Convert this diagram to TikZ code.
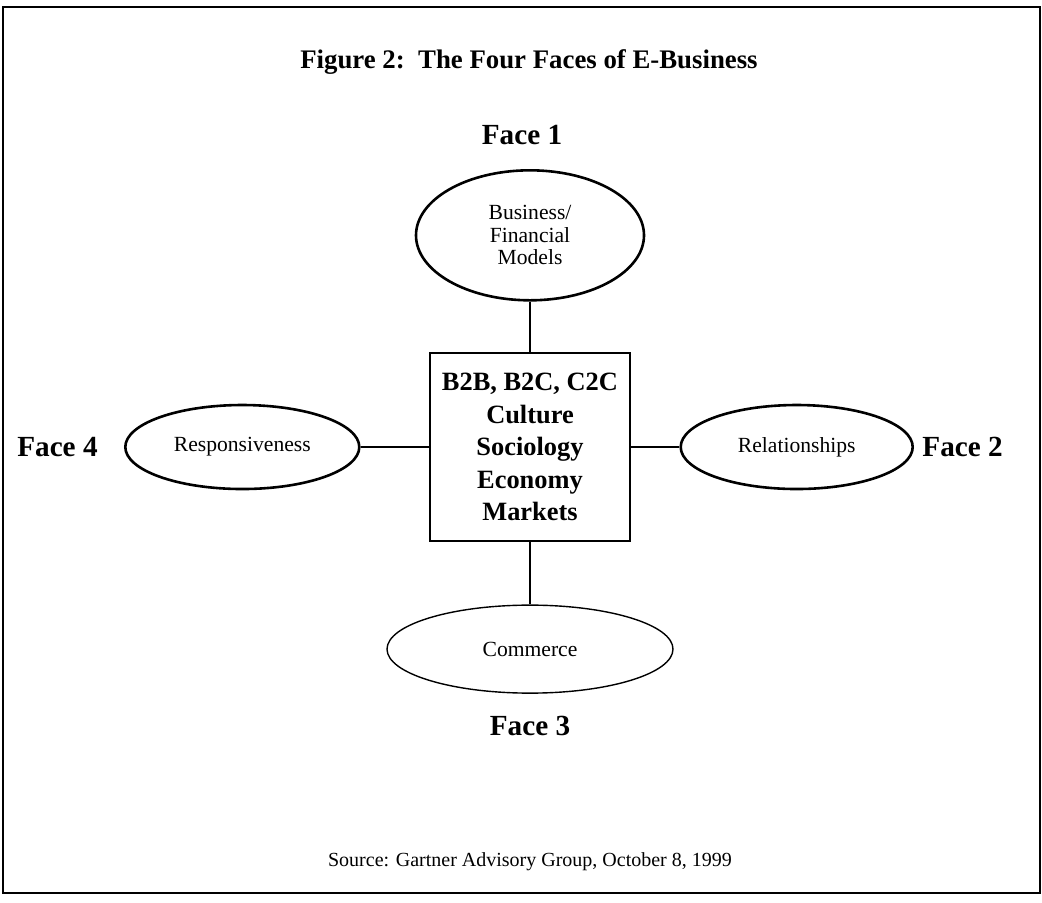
\documentclass[tikz,border=0pt]{standalone}
\usepackage{fontspec}
\setmainfont{Liberation Serif}
\usepackage{tikz}
\usetikzlibrary{positioning,shapes.geometric}
\tikzset{
  face/.style    = {draw=black, line width=1.3pt, ellipse, inner sep=0pt,
                    align=center, font=\fontsize{10.8}{11.3}\selectfont},
  thinface/.style= {face, line width=0.7pt},
  core/.style    = {draw=black, line width=1.4pt, inner sep=0pt, align=center,
                    minimum width=100pt, minimum height=94pt,
                    font=\fontsize{13.2}{16.3}\selectfont\bfseries},
  facelbl/.style = {inner sep=0pt, font=\fontsize{14.6}{16}\selectfont\bfseries},
  link/.style    = {draw=black, line width=1.3pt},
}
\begin{document}
\begin{tikzpicture}[x=0.5pt, y=-0.5pt]
\useasboundingbox (0,0) rectangle (1042,902);
\draw[line width=1.3pt] (3,7) rectangle (1040,893);

% ---------- title and source ----------
\node[font=\fontsize{13.4}{15}\selectfont\bfseries] (title) at (529,62)
  {Figure 2:\ \ The Four Faces of E-Business};
\node[font=\fontsize{10}{12}\selectfont] (source) at (530,862)
  {Source: Gartner Advisory Group, October 8, 1999};

% ---------- core and the four faces ----------
\node[core] (core) at (530,447) {B2B, B2C, C2C\\Culture\\Sociology\\Economy\\Markets};
\node[face, minimum width=114pt, minimum height=65pt, above=25pt of core] (models)
  {Business/\\Financial\\Models};
\node[face, minimum width=116pt, minimum height=42pt, right=24pt of core] (relations)
  {Relationships};
\node[thinface, minimum width=143pt, minimum height=44pt, below=31pt of core] (commerce)
  {Commerce};
\node[face, minimum width=117pt, minimum height=42pt, left=34pt of core] (respond)
  {Responsiveness};

\node[facelbl, above=12pt of models, xshift=-4pt] (face1) {Face 1};
\node[facelbl, right=4pt of relations] (face2) {Face 2};
\node[facelbl, below=11pt of commerce] (face3) {Face 3};
\node[facelbl, left=13pt of respond] (face4) {Face 4};

\draw[link] (models) -- (core);
\draw[link] (core) -- (relations);
\draw[link] (core) -- (commerce);
\draw[link] (respond) -- (core);

\end{tikzpicture}
\end{document}
